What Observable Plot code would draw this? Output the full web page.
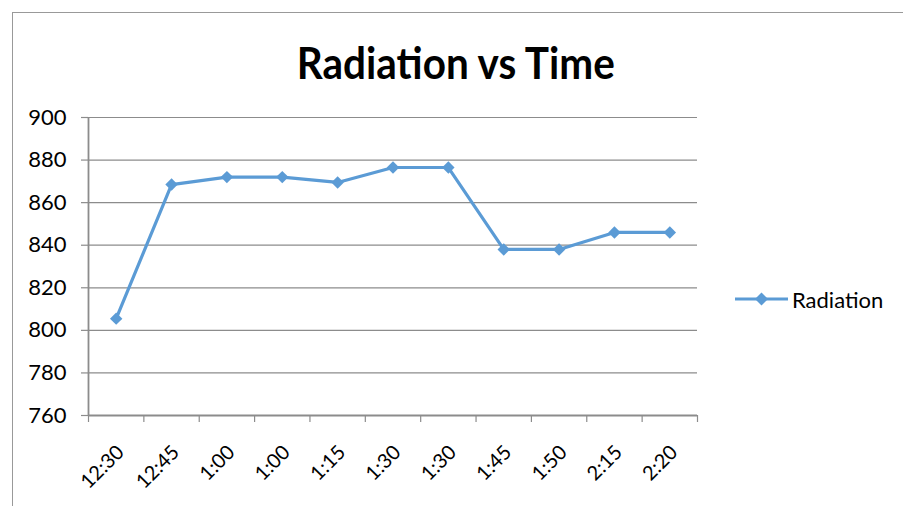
<!DOCTYPE html>
<html>
<head>
<meta charset="utf-8">
<script src="https://cdn.jsdelivr.net/npm/d3@7"></script>
<script src="https://cdn.jsdelivr.net/npm/@observablehq/plot@0.6"></script>
<style>
  html, body { margin: 0; padding: 0; background: #fff; }
  body { width: 903px; height: 506px; overflow: hidden; position: relative; font-family: Lato, "Open Sans", sans-serif; }
  #frame { position: absolute; left: 12px; top: 12px; width: 1000px; height: 1000px; border-left: 1.5px solid #999; border-top: 1.5px solid #999; box-sizing: border-box; pointer-events: none; }
  #title { height: 100px; box-sizing: border-box; padding-top: 36px; padding-left: 8px; text-align: center; font-family: Lato, sans-serif; font-weight: bold; font-size: 44px; line-height: normal; color: #000; }
  #title span { display: inline-block; transform: scaleX(0.92); }
  #legend { position: absolute; left: 735px; top: 286px; height: 26px; display: flex; align-items: center; font-size: 22px; color: #000; }
  #legend svg { margin-right: 4px; }
  #chart svg { display: block; }
</style>
</head>
<body>
<div id="frame"></div>
<div id="title"><span>Radiation vs Time</span></div>
<div id="chart"></div>
<div id="legend"><svg width="53" height="14" viewBox="0 0 53 14"><line x1="0" y1="7" x2="53" y2="7" stroke="#5b9bd5" stroke-width="3"/><polygon points="26.5,0.5 33,7 26.5,13.5 20,7" fill="#5b9bd5"/></svg><span>Radiation</span></div>
<script>
const times = ["12:30", "12:45", "1:00", "1:00", "1:15", "1:30", "1:30", "1:45", "1:50", "2:15", "2:20"];
const radiation = [805.5, 868.5, 872, 872, 869.5, 876.5, 876.5, 838, 838, 846, 846];
const yTicks = [760, 780, 800, 820, 840, 860, 880, 900];

const data = times.map((t, i) => ({i, t, v: radiation[i]}));
const boundaries = d3.range(times.length + 1).map(k => k - 0.5);
const grey = "#8c8c8c";
const blue = "#5b9bd5";

const chart = Plot.plot({
  width: 903,
  height: 406,
  marginLeft: 88,
  marginRight: 206,
  marginTop: 17,
  marginBottom: 91,
  style: {fontFamily: "Lato, 'Open Sans', sans-serif", color: "#000", background: "transparent"},
  x: {type: "linear", domain: [-0.5, times.length - 0.5], axis: null},
  y: {domain: [760, 900], axis: null},
  marks: [
    Plot.gridY(yTicks, {stroke: grey, strokeOpacity: 1, strokeWidth: 1.2}),
    Plot.axisY(yTicks, {label: null, tickSize: 7, tickPadding: 15, fontSize: 22, stroke: grey, strokeWidth: 1.2, fill: "#000"}),
    Plot.axisX(boundaries, {label: null, tickSize: 7, tickFormat: () => "", stroke: grey, strokeWidth: 1.2}),
    Plot.ruleY([760], {stroke: grey, strokeWidth: 1.8}),
    Plot.ruleX([-0.5], {stroke: grey, strokeWidth: 1.8}),
    Plot.text(data, {x: "i", y: () => 760, text: "t", rotate: -45, textAnchor: "end", lineAnchor: "bottom", dx: 9, dy: 38, fontSize: 20, fill: "#000"}),
    Plot.line(data, {x: "i", y: "v", stroke: blue, strokeWidth: 3.2}),
    Plot.dot(data, {x: "i", y: "v", symbol: "diamond2", r: 5.6, fill: blue, stroke: "none"})
  ]
});
document.getElementById("chart").appendChild(chart);
</script>
</body>
</html>
